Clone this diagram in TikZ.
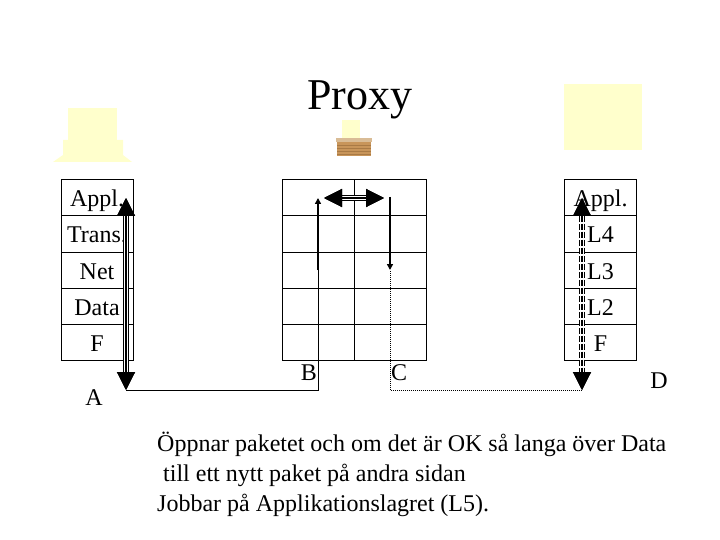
\documentclass[tikz,border=0pt]{standalone}
\usepackage{fontspec}
\setmainfont{Liberation Serif}
\usetikzlibrary{arrows.meta, positioning}
\definecolor{hostfill}{HTML}{FFFFCC}
\definecolor{brickfill}{HTML}{C8955A}
\definecolor{brickline}{HTML}{A97A45}
\definecolor{bricktop}{HTML}{D9BC96}
\tikzset{
  layer/.style={draw, line width=1pt, minimum width=72pt, minimum height=36pt, inner sep=0pt,
    outer sep=0pt, font=\fontsize{24}{30}\selectfont, text height=23pt, text depth=5pt},
  gridrow/.style={draw, line width=1pt, minimum width=144pt, minimum height=36pt, inner sep=0pt, outer sep=0pt},
  tag/.style={font=\fontsize{24}{30}\selectfont, inner sep=0pt},
  bigtip/.tip={Triangle[length=18pt, width=18pt]},
  tripleline/.style={draw, double=white, double distance=4.2pt, line width=1.1pt, bigtip-bigtip,
    postaction={draw, line width=1.1pt}},
  tripledash/.style={draw, double=white, double distance=4.2pt, line width=1.1pt, bigtip-bigtip,
    dash pattern=on 6pt off 2pt, postaction={draw, line width=1.1pt, dash pattern=on 6pt off 2pt}},
  thinarrow/.style={line width=1.6pt, -{Triangle[length=6pt, width=6pt]}}
}
\begin{document}
\begin{tikzpicture}[x=1pt, y=-1pt]
    \useasboundingbox (0,0) rectangle (720,540);
    \fill[hostfill] (68,108) rectangle (117,140);
    \fill[hostfill] (63,140) -- (123,140) -- (123,155) -- (132,162) -- (53,162) -- (63,155) -- cycle;
    \fill[hostfill] (564,84) rectangle (642,150);
    \fill[hostfill] (342,120) rectangle (360,138);
    \fill[bricktop] (336,138) rectangle (372,142);
    \fill[brickfill] (337,142) rectangle (371,156);
    \foreach \y in {145,148,151,154}{
      \draw[brickline, line width=0.6pt] (337,\y) -- (371,\y);
    }
    \node[font=\fontsize{44}{50}\selectfont, inner sep=0pt] (title) at (360,100) {Proxy};
    \foreach \txt [count=\i] in {Appl.,Trans.,Net,Data,F}{
      \node[layer] (left\i) at (97,162+36*\i) {\txt};
    }
    \foreach \txt [count=\i] in {Appl.,L4,L3,L2,F}{
      \node[layer] (right\i) at (600.5,162+36*\i) {\txt};
    }
    \foreach \i in {1,...,5}{
      \node[gridrow] (mid\i) at (354,162+36*\i) {};
    }
    \draw[line width=1pt] (mid1.north) -- (mid5.south);
    \node[tag] (labelA) at (94,398) {A};
    \node[tag] (labelB) at (309,373) {B};
    \node[tag] (labelC) at (399,373) {C};
    \node[tag] (labelD) at (659,381) {D};
    \coordinate (leftup) at (126,198);
    \coordinate (leftdown) at (126,390);
    \coordinate (rightup) at (582,198);
    \coordinate (rightdown) at (582,390);
    \coordinate (turnB) at (318,390);
    \coordinate (turnC) at (390,390);
    \coordinate (lowB) at (318,270);
    \coordinate (highB) at (318,198);
    \coordinate (highC) at (390,197);
    \coordinate (lowC) at (390,270);
    \coordinate (swapL) at (324,198);
    \coordinate (swapR) at (384,198);
    \path[tripleline] (leftup) -- (leftdown);
    \path[tripledash] (rightup) -- (rightdown);
    \path[tripleline] (swapL) -- (swapR);
    \draw[thinarrow] (lowB) -- (highB);
    \draw[thinarrow] (highC) -- (lowC);
    \draw[line width=1pt] (leftdown) -- (turnB) -- (lowB);
    \draw[line width=1pt, dash pattern=on 1pt off 1pt] (rightdown) -- (turnC) -- (lowC);
    \node[tag, anchor=north west, align=left] (note) at (157,432) {Öppnar paketet och om det är OK så langa över Data\\
      \hspace*{6pt}till ett nytt paket på andra sidan\\
      Jobbar på Applikationslagret (L5).};
  \end{tikzpicture}
\end{document}
